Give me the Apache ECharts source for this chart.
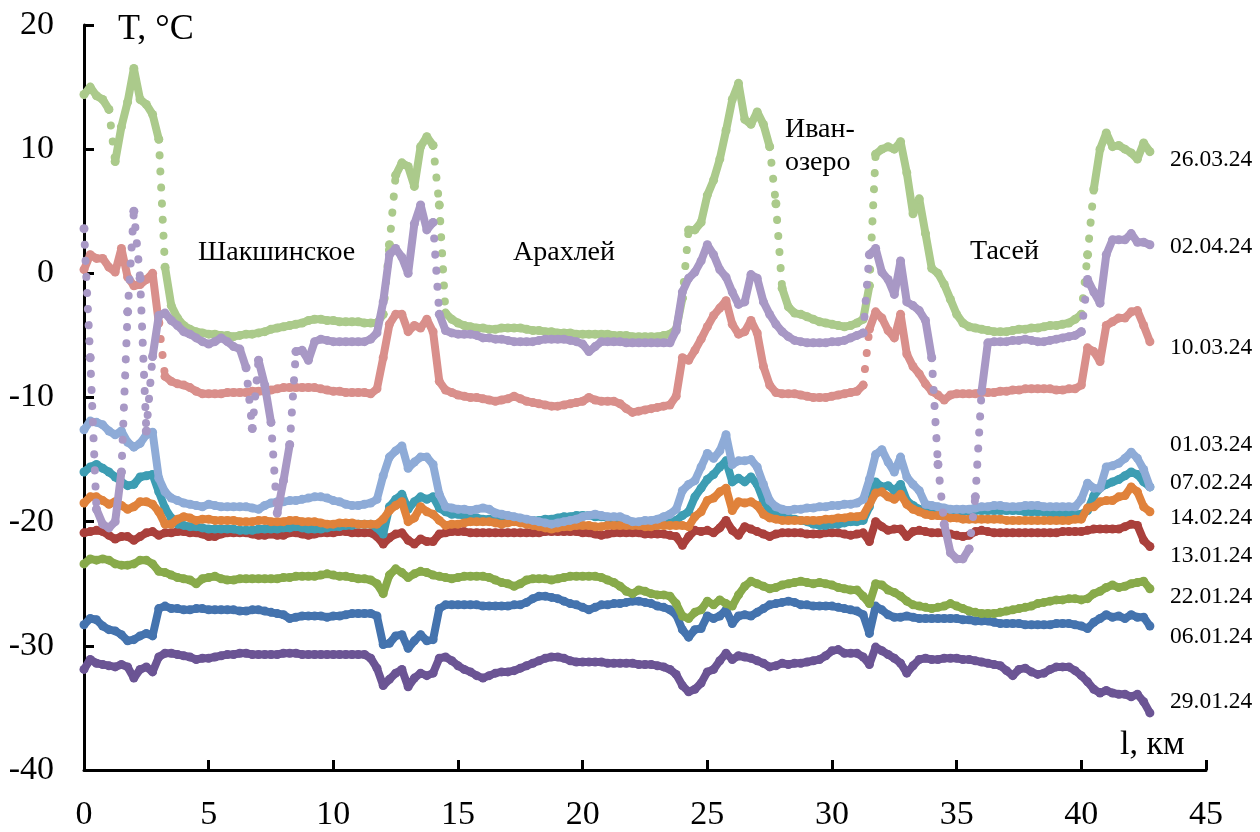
<!DOCTYPE html>
<html><head><meta charset="utf-8">
<script src="https://cdn.jsdelivr.net/npm/echarts@6/dist/echarts.min.js"></script>
<style>html,body{margin:0;padding:0;background:#fff}#c{width:1260px;height:832px}</style>
</head><body><div id="c"></div>
<script>
// distance along route, km
const km = [
0,0.25,0.5,0.75,1,1.25,1.5,1.75,2,2.25,2.5,2.75,3,3.25,3.5,3.75,4,4.25,4.5,4.75,
5,5.25,5.5,5.75,6,6.25,6.5,6.75,7,7.25,7.5,7.75,8,8.25,8.5,8.75,9,9.25,9.5,9.75,
10,10.25,10.5,10.75,11,11.25,11.5,11.75,12,12.25,12.5,12.75,13,13.25,13.5,13.75,14,14.25,14.5,14.75,
15,15.25,15.5,15.75,16,16.25,16.5,16.75,17,17.25,17.5,17.75,18,18.25,18.5,18.75,19,19.25,19.5,19.75,
20,20.25,20.5,20.75,21,21.25,21.5,21.75,22,22.25,22.5,22.75,23,23.25,23.5,23.75,24,24.25,24.5,24.75,
25,25.25,25.5,25.75,26,26.25,26.5,26.75,27,27.25,27.5,27.75,28,28.25,28.5,28.75,29,29.25,29.5,29.75,
30,30.25,30.5,30.75,31,31.25,31.5,31.75,32,32.25,32.5,32.75,33,33.25,33.5,33.75,34,34.25,34.5,34.75,
35,35.25,35.5,35.75,36,36.25,36.5,36.75,37,37.25,37.5,37.75,38,38.25,38.5,38.75,39,39.25,39.5,39.75,
40,40.25,40.5,40.75,41,41.25,41.5,41.75,42,42.25,42.5,42.75];

const t260324 = [
14.4,15.0,14.3,14.0, 13.2,9.0,11.8,13.8, 16.5,14.0,13.6,12.8, 10.8,0.5,-2.6,-3.6, -4.2,-4.5,-4.7,-4.8,
-4.9,-4.9,-5.0,-5.0, -5.1,-5.0,-4.9,-4.9, -4.8,-4.7,-4.5,-4.4, -4.3,-4.2,-4.1,-4.0, -3.8,-3.7,-3.7,-3.8,
-3.8,-3.9,-3.9,-3.9, -3.9,-4.0,-4.0,-4.0, -3.3,2.3,7.9,8.9, 8.6,7.0,10.2,11.0, 10.3,5.5,-3.2,-3.7,
-4.0,-4.2,-4.3,-4.4, -4.4,-4.5,-4.5,-4.4, -4.4,-4.4,-4.4,-4.5, -4.6,-4.6,-4.7,-4.7, -4.8,-4.8,-4.8,-4.9,
-4.9,-4.9,-4.9,-4.9, -4.9,-5.0,-5.0,-5.0, -5.1,-5.1,-5.1,-5.1, -5.1,-5.0,-4.9,-4.5, -2.0,3.5,3.5,4.1,
6.3,7.5,9.2,11.5, 14.0,15.3,12.4,12.0, 13.0,12.0,10.2,5.6, -1.2,-2.7,-3.2,-3.3, -3.5,-3.7,-3.9,-4.0,
-4.1,-4.2,-4.3,-4.2, -4.0,-3.7,-1.0,9.6, 10.0,10.2,10.0,10.6, 8.1,4.8,6.0,3.2, 0.4,0.0,-0.9,-2.1,
-3.3,-4.0,-4.3,-4.4, -4.5,-4.6,-4.7,-4.7, -4.7,-4.6,-4.5,-4.5, -4.4,-4.4,-4.3,-4.2, -4.2,-4.1,-4.0,-3.7,
-3.3,1.5,6.8,10.0, 11.3,10.2,10.3,10.0, 9.7,9.2,10.5,9.8];

const t020424 = [
3.6,-6.8,-19.0,-20.2, -20.5,-20.0,-16.0,-3.1, 5.0,-0.4,-12.7,-6.7, -3.4,-3.2,-3.8,-4.2, -4.7,-4.9,-5.2,-5.5,
-5.7,-5.5,-5.2,-5.5, -5.9,-6.1,-7.6,-12.5, -7.0,-9.0,-12.0,-19.3, -16.7,-13.8,-6.3,-6.2, -7.0,-5.5,-5.3,-5.4,
-5.5,-5.5,-5.5,-5.5, -5.5,-5.5,-5.3,-4.8, -2.3,1.5,2.0,1.3, 0.0,4.0,5.5,3.5, 4.1,-3.3,-4.6,-4.8,
-4.9,-4.9,-4.9,-5.0, -5.2,-5.2,-5.3,-5.3, -5.4,-5.5,-5.5,-5.5, -5.5,-5.4,-5.3,-5.3, -5.3,-5.3,-5.4,-5.5,
-5.7,-6.3,-5.9,-5.5, -5.5,-5.5,-5.5,-5.6, -5.6,-5.6,-5.6,-5.6, -5.6,-5.6,-5.6,-4.6, -1.5,-0.4,0.1,1.0,
2.3,1.5,0.3,-0.3, -1.5,-2.5,-2.3,-0.1, -0.4,-2.3,-3.3,-4.1, -4.7,-5.1,-5.4,-5.5, -5.6,-5.6,-5.6,-5.6,
-5.5,-5.5,-5.4,-5.2, -5.0,-4.8,1.5,2.0, 0.1,-0.5,-1.7,1.0, -2.3,-2.6,-3.0,-3.8, -6.8,-15.4,-20.2,-22.5,
-23.0,-23.0,-22.2,-18.0, -9.5,-5.6,-5.5,-5.5, -5.5,-5.4,-5.4,-5.3, -5.4,-5.5,-5.5,-5.4, -5.3,-5.2,-5.1,-5.0,
-4.7,-0.5,-1.5,-2.4, 1.5,2.7,2.7,2.7, 3.2,2.5,2.5,2.3];

const t100324 = [
0.3,1.5,1.2,1.2, 0.5,0.1,2.0,-0.3, -1.0,-0.9,-0.5,0.0, -4.0,-8.3,-8.7,-8.9, -9.0,-9.2,-9.5,-9.7,
-9.7,-9.7,-9.7,-9.6, -9.6,-9.6,-9.6,-9.5, -9.5,-9.5,-9.4,-9.3, -9.2,-9.2,-9.2,-9.2, -9.2,-9.2,-9.3,-9.4,
-9.5,-9.5,-9.6,-9.6, -9.6,-9.6,-9.7,-9.3, -6.8,-4.1,-3.3,-3.3, -4.7,-4.2,-4.4,-3.7, -4.7,-8.7,-9.4,-9.6,
-9.8,-9.9,-10.0,-10.0, -10.1,-10.2,-10.3,-10.2, -10.1,-9.9,-10.1,-10.3, -10.4,-10.5,-10.6,-10.7, -10.7,-10.6,-10.5,-10.4,
-10.3,-10.0,-10.2,-10.3, -10.3,-10.3,-10.5,-10.9, -11.2,-11.1,-11.0,-10.9, -10.8,-10.7,-10.6,-9.9, -6.8,-7.0,-6.2,-5.3,
-4.3,-3.4,-2.8,-2.2, -4.1,-4.9,-4.7,-3.8, -4.8,-7.5,-9.0,-9.6, -9.7,-9.7,-9.7,-9.8, -9.9,-10.0,-10.0,-10.0,
-9.9,-9.8,-9.7,-9.6, -9.5,-9.0,-4.5,-3.1, -3.6,-4.6,-5.2,-3.3, -6.5,-7.5,-8.1,-8.9, -9.5,-9.8,-10.2,-9.8,
-9.7,-9.7,-9.7,-9.7, -9.6,-9.6,-9.6,-9.5, -9.5,-9.4,-9.4,-9.3, -9.3,-9.3,-9.3,-9.3, -9.4,-9.4,-9.3,-9.3,
-9.0,-6.0,-6.3,-7.1, -4.2,-3.9,-3.6,-3.6, -3.1,-3.0,-4.2,-5.5];

const t010324 = [
-12.6,-11.9,-12.0,-12.2, -12.7,-13.0,-12.7,-13.6, -14.0,-13.7,-13.0,-12.8, -16.5,-17.6,-18.1,-18.3, -18.5,-18.6,-18.7,-18.8,
-18.6,-18.7,-18.8,-18.8, -18.8,-18.8,-18.8,-18.9, -19.0,-18.7,-18.5,-18.4, -18.4,-18.3,-18.3,-18.2, -18.1,-18.0,-18.0,-18.1,
-18.3,-18.4,-18.6,-18.7, -18.7,-18.6,-18.5,-18.2, -16.3,-14.8,-14.3,-13.9, -15.7,-15.2,-14.8,-14.8, -15.4,-17.8,-18.8,-18.9,
-19.0,-19.0,-19.1,-19.0, -18.9,-19.0,-19.3,-19.4, -19.5,-19.6,-19.7,-19.8, -19.9,-20.0,-20.1,-20.2, -20.1,-20.0,-19.9,-19.8,
-19.6,-19.5,-19.4,-19.5, -19.6,-19.6,-19.6,-19.8, -20.0,-20.0,-19.9,-19.9, -19.8,-19.6,-19.4,-19.0, -17.5,-17.0,-16.7,-15.6,
-14.5,-14.9,-14.3,-13.0, -15.4,-15.1,-15.1,-15.0, -15.6,-17.0,-18.3,-18.8, -19.0,-19.1,-19.0,-19.0, -18.9,-18.9,-18.8,-18.8,
-18.7,-18.7,-18.6,-18.6, -18.5,-18.2,-16.6,-14.6, -14.2,-15.2,-16.0,-14.8, -16.4,-17.0,-17.5,-18.6, -18.7,-18.8,-18.9,-19.0,
-19.0,-19.0,-19.0,-18.9, -18.8,-18.8,-18.7,-18.7, -18.8,-18.8,-18.8,-18.7, -18.7,-18.7,-18.8,-18.8, -18.8,-18.8,-18.8,-18.8,
-18.2,-16.9,-17.3,-17.3, -15.6,-15.5,-15.3,-14.9, -14.4,-14.9,-15.8,-17.2];

const t070224 = [
-16.0,-15.6,-15.4,-15.7, -16.0,-16.4,-16.8,-17.1, -17.0,-16.4,-16.3,-16.2, -17.6,-18.9,-19.7,-20.2, -20.3,-20.4,-20.4,-20.5,
-20.6,-20.6,-20.6,-20.6, -20.6,-20.7,-20.7,-20.7, -20.6,-20.6,-20.6,-20.6, -20.5,-20.5,-20.4,-20.5, -20.6,-20.6,-20.6,-20.5,
-20.4,-20.4,-20.3,-20.3, -20.2,-20.2,-20.2,-20.5, -21.0,-18.8,-18.2,-17.8, -19.0,-18.4,-18.0,-18.2, -18.0,-18.9,-19.2,-19.4,
-19.4,-19.5,-19.6,-19.7, -19.8,-19.8,-19.9,-19.9, -19.9,-19.8,-19.8,-19.9, -19.9,-19.9,-19.8,-19.8, -19.7,-19.6,-19.6,-19.5,
-19.5,-19.5,-19.6,-19.6, -19.7,-19.9,-20.0,-20.1, -20.2,-20.2,-20.3,-20.3, -20.3,-20.2,-20.1,-19.9, -19.5,-19.2,-18.0,-17.3,
-16.6,-16.2,-15.6,-15.1, -16.8,-16.5,-16.8,-16.4, -17.0,-18.3,-19.1,-19.4, -19.6,-19.7,-19.8,-19.9, -20.0,-20.2,-20.3,-20.3,
-20.2,-20.2,-20.1,-20.0, -20.0,-19.9,-18.8,-16.8, -17.2,-17.1,-17.5,-17.0, -18.3,-18.7,-19.0,-19.1, -19.2,-19.2,-19.2,-19.2,
-19.2,-19.2,-19.1,-19.1, -19.1,-19.1,-19.1,-19.1, -19.1,-19.1,-19.1,-19.2, -19.2,-19.2,-19.2,-19.3, -19.3,-19.3,-19.3,-19.4,
-19.4,-19.1,-17.9,-17.3, -17.0,-16.8,-16.6,-16.3, -16.0,-16.2,-16.8,-17.2];

const t140224 = [
-18.5,-18.0,-18.0,-18.3, -18.6,-18.4,-18.7,-19.0, -18.8,-18.4,-18.4,-18.6, -19.2,-20.2,-20.2,-19.8, -19.6,-19.7,-19.9,-19.8,
-19.8,-19.9,-19.9,-19.9, -19.9,-20.0,-20.0,-20.0, -19.9,-19.9,-20.0,-20.0, -20.0,-19.9,-19.9,-20.0, -20.0,-20.0,-20.1,-20.2,
-20.2,-20.1,-20.1,-20.1, -20.2,-20.2,-20.2,-20.2, -19.8,-19.1,-18.7,-18.4, -20.0,-19.7,-18.8,-19.2, -19.4,-19.9,-20.3,-20.2,
-20.2,-20.1,-20.0,-20.0, -20.0,-20.0,-20.1,-20.2, -20.1,-20.0,-20.1,-20.2, -20.3,-20.4,-20.5,-20.6, -20.5,-20.4,-20.4,-20.3,
-20.3,-20.3,-20.4,-20.4, -20.3,-20.3,-20.3,-20.3, -20.3,-20.3,-20.4,-20.4, -20.3,-20.3,-20.3,-20.3, -20.3,-20.4,-19.6,-19.2,
-18.3,-18.1,-17.6,-17.3, -19.1,-18.4,-18.5,-18.4, -18.7,-19.4,-19.7,-19.8, -19.9,-19.9,-19.9,-19.9, -19.9,-19.9,-19.9,-19.8,
-19.8,-19.7,-19.7,-19.6, -19.6,-19.5,-18.6,-17.7, -17.6,-18.0,-18.2,-17.8, -18.6,-19.0,-19.2,-19.4, -19.5,-19.5,-19.6,-19.7,
-19.7,-19.8,-19.8,-19.8, -19.8,-19.8,-19.8,-19.8, -19.9,-19.9,-19.9,-19.9, -19.9,-19.9,-19.9,-19.9, -19.9,-19.9,-19.9,-19.8,
-19.8,-18.9,-18.8,-18.4, -18.3,-18.3,-18.0,-17.9, -17.2,-17.6,-18.8,-19.2];

const t130124 = [
-20.9,-20.8,-20.7,-20.8, -21.1,-21.4,-21.2,-21.2, -21.5,-21.2,-20.9,-20.8, -21.1,-20.9,-20.9,-20.8, -20.8,-20.9,-20.9,-21.0,
-21.2,-21.2,-21.0,-20.9, -20.9,-20.9,-20.9,-21.0, -21.1,-21.1,-21.0,-21.1, -21.1,-20.9,-20.9,-21.0, -21.1,-21.0,-20.9,-20.9,
-20.9,-20.8,-20.8,-20.9, -20.9,-20.9,-20.9,-21.2, -21.8,-21.3,-21.0,-20.9, -21.5,-21.8,-21.4,-21.6, -21.6,-21.0,-20.9,-20.8,
-20.8,-20.8,-20.9,-20.9, -20.9,-20.9,-20.9,-20.9, -20.9,-20.9,-20.9,-20.9, -20.9,-20.9,-20.8,-20.8, -20.8,-20.8,-20.8,-20.8,
-20.9,-20.9,-21.0,-21.1, -21.0,-20.9,-20.9,-20.9, -20.9,-20.9,-21.0,-21.0, -21.0,-21.0,-21.1,-21.2, -21.9,-21.2,-20.7,-20.8,
-20.7,-20.9,-20.5,-19.9, -20.7,-21.1,-20.4,-20.6, -20.8,-21.0,-21.2,-21.0, -20.9,-20.9,-20.9,-20.9, -21.0,-21.0,-21.0,-20.9,
-20.9,-20.9,-21.0,-21.1, -21.0,-20.9,-21.6,-20.0, -20.4,-20.7,-20.6,-20.6, -21.2,-20.8,-20.7,-20.8, -20.9,-20.9,-20.9,-21.0,
-21.1,-21.2,-21.1,-20.8, -20.7,-20.8,-20.9,-20.9, -20.9,-20.9,-20.9,-20.9, -20.9,-20.9,-20.9,-20.9, -20.9,-20.8,-20.8,-20.8,
-20.8,-20.7,-20.6,-20.6, -20.6,-20.6,-20.6,-20.4, -20.2,-20.3,-21.5,-22.0];

const t220124 = [
-23.4,-23.0,-23.1,-23.0, -23.1,-23.4,-23.5,-23.5, -23.4,-23.1,-23.1,-23.4, -24.0,-24.1,-24.3,-24.5, -24.6,-24.7,-25.0,-24.6,
-24.5,-24.4,-24.6,-24.7, -24.7,-24.6,-24.6,-24.6, -24.6,-24.6,-24.6,-24.6, -24.5,-24.5,-24.4,-24.4, -24.4,-24.4,-24.3,-24.2,
-24.3,-24.4,-24.4,-24.5, -24.6,-24.6,-24.7,-25.0, -25.8,-24.3,-23.8,-24.1, -24.5,-24.2,-24.0,-24.1, -24.3,-24.4,-24.5,-24.6,
-24.5,-24.4,-24.4,-24.4, -24.4,-24.5,-24.7,-24.9, -25.0,-25.2,-25.0,-24.7, -24.6,-24.6,-24.6,-24.7, -24.6,-24.5,-24.4,-24.4,
-24.4,-24.4,-24.4,-24.5, -24.7,-24.9,-25.2,-25.6, -25.8,-25.5,-25.6,-25.8, -25.9,-25.9,-26.0,-26.6, -27.6,-27.8,-27.3,-27.1,
-26.4,-26.7,-26.3,-26.6, -26.8,-25.9,-25.2,-24.8, -25.0,-25.2,-25.4,-25.3, -25.1,-25.0,-24.9,-24.8, -24.9,-25.0,-24.9,-25.0,
-25.1,-25.3,-25.4,-25.5, -25.5,-26.0,-26.6,-25.0, -25.1,-25.5,-25.7,-26.0, -26.4,-26.7,-26.8,-26.9, -27.0,-26.9,-26.8,-26.6,
-26.8,-27.0,-27.2,-27.3, -27.4,-27.4,-27.4,-27.3, -27.2,-27.1,-27.0,-26.9, -26.8,-26.6,-26.5,-26.4, -26.3,-26.3,-26.2,-26.2,
-26.3,-26.2,-25.8,-25.6, -25.3,-25.1,-25.3,-25.2, -25.0,-24.9,-24.8,-25.4];

const t060124 = [
-28.3,-27.8,-27.9,-28.4, -28.7,-28.8,-29.1,-29.6, -29.5,-29.2,-29.0,-29.2, -27.0,-26.8,-27.0,-27.0, -27.1,-27.1,-27.0,-27.0,
-27.1,-27.1,-27.1,-27.1, -27.1,-27.2,-27.2,-27.1, -27.1,-27.2,-27.3,-27.4, -27.5,-27.8,-27.7,-27.6, -27.6,-27.6,-27.6,-27.7,
-27.6,-27.6,-27.5,-27.4, -27.4,-27.4,-27.4,-27.6, -29.9,-29.8,-29.2,-29.1, -30.2,-29.6,-29.1,-29.6, -29.5,-27.0,-26.7,-26.7,
-26.7,-26.7,-26.7,-26.7, -26.8,-26.8,-26.8,-26.8, -26.8,-26.7,-26.7,-26.5, -26.2,-26.0,-26.0,-26.1, -26.2,-26.4,-26.6,-26.7,
-26.9,-27.1,-26.9,-26.7, -26.7,-26.6,-26.6,-26.5, -26.4,-26.4,-26.5,-26.6, -26.8,-26.9,-27.1,-27.5, -28.7,-29.3,-28.7,-28.6,
-27.6,-27.8,-27.6,-27.1, -28.2,-27.6,-27.5,-27.6, -27.3,-27.0,-26.7,-26.6, -26.5,-26.4,-26.5,-26.7, -26.7,-26.8,-26.8,-26.8,
-26.8,-26.9,-27.0,-27.1, -27.2,-27.5,-29.0,-26.8, -27.1,-27.5,-27.7,-27.7, -27.6,-27.7,-27.8,-27.8, -27.8,-27.8,-27.8,-27.8,
-27.8,-27.9,-27.9,-28.0, -28.0,-28.0,-28.1,-28.2, -28.2,-28.2,-28.2,-28.3, -28.3,-28.3,-28.3,-28.3, -28.2,-28.2,-28.2,-28.3,
-28.4,-28.6,-28.1,-27.8, -27.5,-27.7,-27.6,-27.8, -27.5,-27.7,-27.7,-28.4];

const t290124 = [
-31.9,-31.1,-31.4,-31.5, -31.6,-31.7,-31.5,-31.7, -32.6,-31.9,-31.7,-32.1, -30.9,-30.6,-30.6,-30.7, -30.8,-30.9,-31.1,-31.0,
-31.0,-30.9,-30.8,-30.7, -30.7,-30.6,-30.6,-30.7, -30.7,-30.7,-30.7,-30.7, -30.6,-30.6,-30.6,-30.7, -30.7,-30.7,-30.7,-30.7,
-30.7,-30.7,-30.7,-30.7, -30.7,-30.7,-31.0,-31.8, -33.2,-32.7,-32.2,-31.9, -33.3,-32.6,-32.2,-32.4, -32.2,-31.0,-30.9,-31.2,
-31.6,-31.9,-32.1,-32.4, -32.6,-32.4,-32.2,-32.1, -32.1,-32.0,-31.8,-31.6, -31.4,-31.2,-31.0,-30.9, -30.9,-31.0,-31.2,-31.3,
-31.3,-31.3,-31.3,-31.3, -31.4,-31.4,-31.4,-31.4, -31.4,-31.5,-31.5,-31.5, -31.6,-31.7,-31.9,-32.3, -33.2,-33.7,-33.5,-33.0,
-32.1,-31.9,-31.2,-30.6, -31.1,-30.8,-30.9,-31.0, -31.2,-31.4,-31.7,-31.6, -31.4,-31.5,-31.4,-31.4, -31.3,-31.2,-31.1,-30.8,
-30.4,-30.3,-30.6,-30.6, -30.6,-30.9,-31.5,-30.1, -30.4,-30.7,-31.0,-31.4, -32.2,-31.6,-31.1,-31.0, -31.1,-31.1,-31.0,-31.0,
-31.0,-31.1,-31.1,-31.2, -31.3,-31.4,-31.5,-31.6, -32.0,-32.4,-31.9,-31.8, -32.1,-32.3,-32.2,-31.9, -31.7,-31.7,-31.7,-32.0,
-32.4,-32.9,-33.5,-33.8, -33.6,-33.8,-33.9,-33.9, -34.1,-33.9,-34.5,-35.4];

// series in drawing order (chronological)
const seriesNames = ['06.01.24','13.01.24','22.01.24','29.01.24','07.02.24','14.02.24','01.03.24','10.03.24','26.03.24','02.04.24'];
const seriesValues = [t060124,t130124,t220124,t290124,t070224,t140224,t010324,t100324,t260324,t020424];
const seriesColors = ['#4473ae','#aa403c','#88aa4a','#6b5494','#3d9db3','#e0823b','#8eabd7','#d98f8b','#abca8b','#a898c5'];

// tick labels / annotation texts
const xTicks = [0,5,10,15,20,25,30,35,40,45];
const yTicks = [-40,-30,-20,-10,0,10,20];
const yTitle = 'T, °C';
const xTitle = 'l, км';
const placeNames = ['Шакшинское','Арахлей','Иван-','озеро','Тасей'];
const rightLabelOrder = ['26.03.24','02.04.24','10.03.24','01.03.24','07.02.24','14.02.24','13.01.24','22.01.24','06.01.24','29.01.24'];

const FONT = '"Liberation Serif","Times New Roman",serif';
const chart = echarts.init(document.getElementById('c'), null, {renderer:'canvas'});

const labelYs = [160,247,348,445,483,518,556,597,637,702];
const placePos = [[198,253],[513,253],[785,130],[785,163],[970,252]];

const graphics = [];
graphics.push({type:'text', x:118, y:30, style:{text:yTitle, font:'36px '+FONT, fill:'#000', textVerticalAlign:'middle', verticalAlign:'middle'}});
graphics.push({type:'text', x:1120, y:745, style:{text:xTitle, font:'34px '+FONT, fill:'#000', textVerticalAlign:'middle', verticalAlign:'middle'}});
placeNames.forEach((t,i)=>graphics.push({type:'text', x:placePos[i][0], y:placePos[i][1], style:{text:t, font:'28px '+FONT, fill:'#000', textVerticalAlign:'middle', verticalAlign:'middle'}}));
rightLabelOrder.forEach((t,i)=>graphics.push({type:'text', x:1170, y:labelYs[i], style:{text:t, font:'23.5px '+FONT, fill:'#000', textVerticalAlign:'middle', verticalAlign:'middle'}}));

const JUMP = 4;
// solid trace: broken at steep jumps
function solidData(vals){
  const out = [];
  for (let j = 0; j < km.length; j++) {
    if (j > 0 && Math.abs(vals[j] - vals[j-1]) > JUMP) out.push([km[j], null]);
    out.push([km[j], vals[j]]);
  }
  return out;
}
// steep jumps: drawn as a dotted connector between the two real samples
function jumpData(vals){
  const out = [];
  for (let j = 1; j < km.length; j++) {
    if (Math.abs(vals[j] - vals[j-1]) > JUMP) {
      out.push([km[j-1], vals[j-1]], [km[j], vals[j]], [km[j], null]);
    }
  }
  return out;
}

const series = [];
seriesNames.forEach((n,i)=>{
  series.push({
    name:n, type:'line', symbol:'circle', symbolSize:9, showSymbol:true, showAllSymbol:true,
    connectNulls:false, silent:true, smooth:false, z:2+i*0.01,
    itemStyle:{color:seriesColors[i], opacity:1},
    lineStyle:{color:seriesColors[i], width:8, cap:'round', join:'round'},
    data: solidData(seriesValues[i])
  });
  series.push({
    name:n+' jumps', type:'line', showSymbol:false, connectNulls:false, silent:true, smooth:false, z:2+i*0.01,
    lineStyle:{color:seriesColors[i], width:8, cap:'round', type:[0.1,16]},
    data: jumpData(seriesValues[i])
  });
});

chart.setOption({
  animation:false,
  backgroundColor:'#fff',
  grid:{left:84, right:54, top:25, bottom:58, containLabel:false},
  xAxis:{type:'value', min:xTicks[0], max:xTicks[xTicks.length-1], interval:5,
    axisLine:{show:true, onZero:false, lineStyle:{color:'#000', width:3}},
    axisTick:{show:true, inside:true, length:10, lineStyle:{color:'#000', width:3}},
    axisLabel:{color:'#000', fontSize:34, fontFamily:FONT, margin:28},
    splitLine:{show:false}},
  yAxis:{type:'value', min:yTicks[0], max:yTicks[yTicks.length-1], interval:10,
    axisLine:{show:true, onZero:false, lineStyle:{color:'#000', width:3}},
    axisTick:{show:true, inside:true, length:10, lineStyle:{color:'#000', width:3}},
    axisLabel:{color:'#000', fontSize:34, fontFamily:FONT, margin:30},
    splitLine:{show:false}},
  graphic: graphics,
  series: series
});
</script></body></html>
